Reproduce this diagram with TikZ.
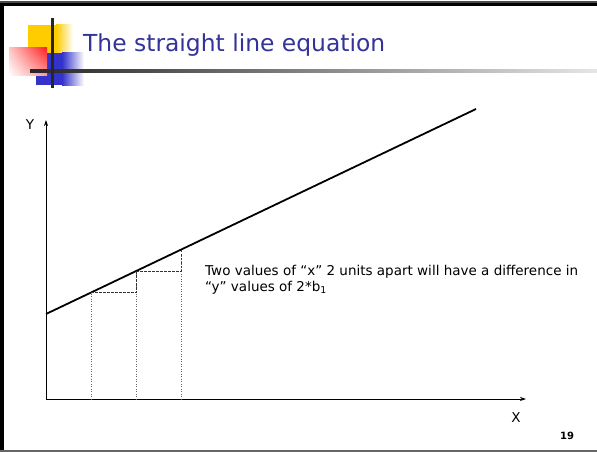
\documentclass[tikz,border=0pt]{standalone}
\usepackage{fontspec}
\setmainfont{DejaVu Sans}
\usepackage{tikz}
\usetikzlibrary{arrows.meta,positioning,shadings}
\definecolor{titleblue}{HTML}{333399}
\definecolor{sqyellow}{HTML}{FFCC00}
\definecolor{sqblue}{HTML}{3333CC}
\definecolor{sqred}{HTML}{FF2020}

\begin{document}
\begin{tikzpicture}[
x=1pt, y=-1pt,
axis/.style={-{Stealth[length=6pt,width=4pt]}, thick},
slope/.style={line width=1.8pt},
guide/.style={dotted, gray!80!black, line width=0.5pt},
stepline/.style={dashed, black!80, line width=0.5pt, dash pattern=on 2.5pt off 1.5pt},
lbl/.style={font=\fontsize{13.5}{16}\selectfont, inner sep=0pt},
]
\useasboundingbox (0,0) rectangle (597,452);
% slide frame
\fill[white] (0,0) rectangle (597,452);
\fill[black!70] (0,1.5) rectangle (597,3);
\fill[black] (0,3) rectangle (597,6);
\fill[black] (0,3) rectangle (3.5,452);
\fill[black!60] (0,449.5) rectangle (597,452);
% title decoration
\fill[sqyellow] (28,25) rectangle (56,53);
\shade[left color=sqyellow, right color=white] (56,25) rectangle (73,53);
\fill[sqblue] (36,53) rectangle (62,85);
\shade[left color=sqblue, right color=white] (62,53) rectangle (84,85);
\shade[upper right=sqred, upper left=sqred!25, lower right=sqred!45, lower left=white] (9,48) rectangle (47,76);
\shade[left color=black!85, right color=black!10] (30,69.5) rectangle (597,72.5);
\fill[black!85] (50.5,18) rectangle (53.5,88);
\node[anchor=base west, inner sep=0pt, text=titleblue, font=\fontsize{23.4}{28}\selectfont] (title) at (83,52) {The straight line equation};
% axes
\coordinate (orig) at (46,399);
\coordinate (ytip) at (46,120);
\coordinate (xtip) at (526,399);
\draw[axis] (orig) -- (ytip);
\draw[axis] (orig) -- (xtip);
\node[lbl, anchor=center] (ylab) at (30,125) {Y};
\node[lbl, anchor=center] (xlab) at (516,418) {X};
% the line
\coordinate (lstart) at (46,314);
\coordinate (lend) at (476,109);
\draw[slope] (lstart) -- (lend);
% points on the line, 2 units apart
\coordinate (p1) at (91,292.5);
\coordinate (p2) at (136,271.2);
\coordinate (p3) at (181,249.7);
\coordinate (f1) at (91,399);
\coordinate (f2) at (136,399);
\coordinate (f3) at (181,399);
\draw[guide] (f1) -- (p1);
\draw[guide] (f2) -- (p2);
\draw[guide] (f3) -- (p3);
\draw[stepline] (p1) -- (p2 |- p1) -- (p2);
\draw[stepline] (p2) -- (p3 |- p2) -- (p3);
\node[lbl, anchor=base west, align=left] (note) at (205,291.7) {Two values of “x” 2 units apart will have a difference in\\“y” values of 2*b\textsubscript{1}};
\node[anchor=center, inner sep=0pt, font=\fontsize{10}{12}\selectfont\bfseries] (pagenum) at (567,436) {19};
\end{tikzpicture}
\end{document}
